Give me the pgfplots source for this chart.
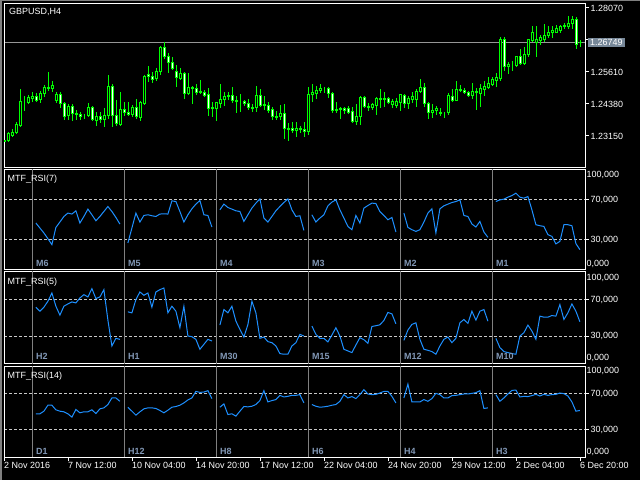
\documentclass[border=0pt]{standalone}
\usepackage{pgfplots}
\pgfplotsset{compat=1.18}
\usepackage{pgfplotstable}
\usepackage{fontspec}
\setmainfont{Liberation Sans}
\definecolor{mtlime}{RGB}{0,255,0}
\definecolor{rsiblue}{RGB}{30,144,255}
\definecolor{tagbg}{RGB}{119,136,153}
\definecolor{lblcol}{RGB}{130,152,182}
\definecolor{divgray}{RGB}{128,128,128}
\definecolor{dashgray}{RGB}{200,200,200}
\definecolor{bidgray}{RGB}{150,150,150}
\newcommand\mtfont{\fontsize{9}{10}\selectfont}

\pgfplotstableread{
k o h l c
0 1.22920 1.23035 1.22882 1.22959
1 1.22959 1.23266 1.22920 1.23228
2 1.23151 1.23381 1.23112 1.23266
3 1.23266 1.23650 1.23228 1.23573
4 1.23535 1.24919 1.23497 1.24457
5 1.24457 1.24650 1.24111 1.24457
6 1.24419 1.24688 1.24380 1.24611
7 1.24573 1.24803 1.24457 1.24650
8 1.24650 1.24765 1.24457 1.24496
9 1.24534 1.24842 1.24419 1.24765
10 1.24765 1.25072 1.24650 1.24995
11 1.24995 1.25572 1.24880 1.24957
12 1.24957 1.25226 1.24842 1.25072
13 1.24496 1.24803 1.24419 1.24726
14 1.24726 1.24803 1.24227 1.24380
15 1.24380 1.24419 1.23766 1.23881
16 1.23919 1.24342 1.23766 1.24265
17 1.24265 1.24342 1.23727 1.23996
18 1.23996 1.24111 1.23766 1.23958
19 1.23958 1.24035 1.23766 1.23881
20 1.23919 1.23958 1.23804 1.23919
21 1.23919 1.24380 1.23881 1.24227
22 1.24227 1.24265 1.23727 1.23766
23 1.23727 1.24035 1.23535 1.23881
24 1.23881 1.24035 1.23650 1.23766
25 1.23766 1.24188 1.23497 1.23919
26 1.23919 1.25457 1.23804 1.25034
27 1.25034 1.25111 1.23497 1.23919
28 1.23919 1.24496 1.23535 1.23612
29 1.23573 1.24803 1.23535 1.24150
30 1.24150 1.24419 1.23919 1.24035
31 1.24035 1.24419 1.23919 1.23958
32 1.23958 1.24304 1.23881 1.24227
33 1.24227 1.24534 1.23804 1.23881
34 1.23842 1.24457 1.23727 1.24419
35 1.24380 1.25457 1.24342 1.25418
36 1.25495 1.25802 1.25226 1.25418
37 1.25418 1.25572 1.25188 1.25303
38 1.25341 1.25726 1.25264 1.25610
39 1.25610 1.26571 1.25495 1.26533
40 1.26533 1.26725 1.26110 1.26187
41 1.26187 1.26302 1.25572 1.25956
42 1.25956 1.26148 1.25687 1.25726
43 1.25610 1.25841 1.25034 1.25380
44 1.25341 1.25726 1.25303 1.25533
45 1.25533 1.25572 1.24573 1.24765
46 1.24765 1.25533 1.24726 1.24995
47 1.24995 1.25034 1.24380 1.24957
48 1.24957 1.25111 1.24726 1.24803
49 1.24803 1.25264 1.24765 1.24842
50 1.24803 1.24880 1.24650 1.24688
51 1.24726 1.24957 1.23919 1.24188
52 1.24188 1.24419 1.23881 1.24227
53 1.24188 1.24419 1.23727 1.24419
54 1.24380 1.25111 1.24227 1.24534
55 1.24534 1.24803 1.24304 1.24650
56 1.24650 1.24803 1.24534 1.24688
57 1.24688 1.24995 1.24419 1.24496
58 1.24496 1.24650 1.24035 1.24457
59 1.24457 1.24726 1.24073 1.24457
60 1.24457 1.24496 1.24304 1.24380
61 1.24380 1.24534 1.24150 1.24227
62 1.24227 1.24342 1.24073 1.24188
63 1.24227 1.25034 1.24073 1.24688
64 1.24688 1.24919 1.24265 1.24304
65 1.24304 1.24650 1.24150 1.24342
66 1.24304 1.24419 1.24035 1.24111
67 1.24150 1.24227 1.23766 1.23881
68 1.23881 1.24073 1.23766 1.23842
69 1.23881 1.24304 1.23766 1.23996
70 1.23996 1.24342 1.23035 1.23420
71 1.23420 1.23612 1.22959 1.23381
72 1.23420 1.23650 1.23266 1.23343
73 1.23343 1.23650 1.23112 1.23420
74 1.23420 1.23497 1.23266 1.23381
75 1.23381 1.23650 1.23112 1.23304
76 1.23304 1.24995 1.23189 1.24726
77 1.24726 1.25111 1.24457 1.24803
78 1.24765 1.25034 1.24573 1.24880
79 1.24880 1.25111 1.24803 1.24957
80 1.24957 1.24995 1.24803 1.24957
81 1.24957 1.24995 1.24611 1.24765
82 1.24765 1.24803 1.24035 1.24111
83 1.24111 1.24419 1.24035 1.24150
84 1.24150 1.24227 1.23804 1.24188
85 1.24188 1.24227 1.23996 1.24111
86 1.24188 1.24265 1.23996 1.24035
87 1.24073 1.24227 1.23650 1.23689
88 1.23689 1.24342 1.23573 1.23881
89 1.23881 1.24650 1.23573 1.24611
90 1.24611 1.24650 1.24227 1.24265
91 1.24265 1.24380 1.24111 1.24227
92 1.24227 1.24380 1.24150 1.24342
93 1.24304 1.24611 1.23958 1.24573
94 1.24573 1.24919 1.24227 1.24534
95 1.24534 1.24803 1.24265 1.24573
96 1.24573 1.24611 1.24380 1.24419
97 1.24342 1.24534 1.24227 1.24457
98 1.24304 1.24573 1.24227 1.24457
99 1.24419 1.24726 1.24111 1.24726
100 1.24688 1.24726 1.24227 1.24380
101 1.24380 1.24650 1.24188 1.24573
102 1.24534 1.24803 1.24419 1.24650
103 1.24534 1.24919 1.24265 1.24842
104 1.24842 1.25303 1.24803 1.24995
105 1.24995 1.25149 1.24265 1.24380
106 1.24380 1.24419 1.23804 1.24035
107 1.24035 1.24342 1.23842 1.24111
108 1.24111 1.24265 1.23958 1.24188
109 1.24035 1.24188 1.23919 1.23996
110 1.23996 1.24035 1.23842 1.23996
111 1.24035 1.24765 1.23958 1.24688
112 1.24650 1.24919 1.24457 1.24496
113 1.24496 1.25226 1.24496 1.24919
114 1.24919 1.25072 1.24842 1.24880
115 1.24880 1.24957 1.24765 1.24803
116 1.24803 1.24842 1.24650 1.24688
117 1.24688 1.25149 1.24573 1.24842
118 1.24842 1.24957 1.24150 1.24803
119 1.24765 1.25111 1.24265 1.24957
120 1.24919 1.25226 1.24688 1.25034
121 1.24995 1.25380 1.24957 1.25149
122 1.25111 1.25380 1.25072 1.25303
123 1.25264 1.25533 1.25034 1.25380
124 1.25341 1.26955 1.25264 1.26878
125 1.26878 1.26917 1.25649 1.25802
126 1.25802 1.25956 1.25533 1.25879
127 1.25879 1.25995 1.25649 1.25879
128 1.25841 1.26187 1.25802 1.26187
129 1.26187 1.26456 1.25879 1.25918
130 1.25918 1.26533 1.25879 1.26264
131 1.26264 1.26878 1.26187 1.26840
132 1.26802 1.27340 1.26763 1.27147
133 1.26725 1.27340 1.26187 1.26840
134 1.26802 1.26994 1.26648 1.26917
135 1.26840 1.27417 1.26763 1.27032
136 1.26994 1.27340 1.26917 1.27147
137 1.27147 1.27340 1.26917 1.27186
138 1.27147 1.27378 1.27109 1.27263
139 1.27224 1.27378 1.27109 1.27340
140 1.27340 1.27493 1.27301 1.27378
141 1.27340 1.27724 1.27301 1.27493
142 1.27455 1.27724 1.27301 1.27647
143 1.27647 1.27686 1.26494 1.26686
144 1.26725 1.26802 1.26571 1.26749
}\candles

\pgfplotstableread{
j s0 s1 s2 s3 s4 s5
0 46.7 26.7 60.0 55.0 56.7 68.3
1 41.7 41.7 65.7 47.7 42.3 70.0
2 36.7 56.7 62.3 51.7 40.0 70.7
3 31.0 47.7 60.7 55.0 38.3 72.7
4 25.0 54.3 59.0 64.0 40.0 74.3
5 42.3 55.0 58.3 67.7 47.7 76.7
6 47.7 54.0 48.3 70.0 56.7 72.7
7 53.3 53.3 55.0 60.0 61.0 71.7
8 56.7 55.7 61.7 51.7 36.7 73.3
9 55.7 56.0 66.7 43.3 61.0 60.0
10 59.0 55.7 71.0 40.0 64.0 45.0
11 46.7 69.0 51.7 54.3 65.7 44.0
12 53.3 68.3 47.7 46.7 67.3 43.3
13 60.7 58.3 53.3 61.7 68.3 35.0
14 55.0 47.7 59.0 64.3 70.0 33.3
15 49.0 55.0 63.3 66.7 54.3 25.7
16 53.3 61.0 67.3 66.3 53.3 28.3
17 58.3 65.7 71.0 58.3 45.7 45.0
18 63.3 69.3 60.0 54.3 42.7 45.0
19 58.3 55.0 53.3 50.0 48.3 44.0
20 52.3 54.3 54.0 52.3 37.7 26.0
21 45.7 42.7 39.3 37.7 32.3 20.0
}\rsiA

\pgfplotstableread{
j s0 s1 s2 s3 s4 s5
0 61.7 56.7 42.3 41.2 25.7 27.9
1 57.4 55.6 59.2 32.2 36.9 17.8
2 61.7 70.0 55.6 27.9 43.0 13.5
3 68.2 78.3 62.8 27.9 44.8 12.4
4 77.2 74.7 46.6 24.0 26.8 11.3
5 62.8 77.2 37.6 31.5 16.0 10.6
6 53.1 61.7 29.3 39.4 14.9 30.4
7 62.8 78.3 42.9 30.4 13.5 34.0
8 65.3 80.8 68.2 16.0 10.6 42.3
9 67.5 82.6 55.6 14.2 19.6 35.8
10 66.4 55.6 27.9 12.4 26.8 26.8
11 71.8 62.8 29.3 20.7 29.3 52.0
12 75.4 57.4 24.3 28.6 23.2 50.9
13 72.9 39.4 23.2 26.4 27.9 50.9
14 81.9 62.8 19.6 22.5 44.8 52.7
15 71.1 30.4 11.3 40.8 48.4 52.0
16 72.9 29.7 10.6 41.6 44.1 64.6
17 80.8 26.8 10.6 42.6 57.4 48.4
18 47.7 16.0 19.6 47.3 47.7 55.6
19 19.6 21.4 23.2 56.0 57.4 65.3
20 27.9 26.8 32.2 54.5 59.2 57.4
21 26.8 25.0 30.4 43.7 46.6 45.9
}\rsiB

\pgfplotstableread{
j s0 s1 s2 s3 s4 s5
0 48.0 55.3 55.3 58.3 65.6 69.3
1 48.0 50.9 59.0 56.4 81.0 61.9
2 50.9 46.5 47.2 55.3 61.2 65.6
3 57.5 50.2 48.0 55.7 61.2 70.0
4 57.5 53.5 45.4 56.4 61.2 74.0
5 52.4 54.6 50.9 57.5 63.8 74.4
6 50.9 54.6 56.1 58.3 61.9 66.7
7 50.2 53.9 55.7 61.9 64.9 67.4
8 48.0 51.7 56.4 69.3 70.7 67.1
9 44.3 49.1 58.3 65.6 69.3 68.2
10 52.8 52.0 62.7 67.1 65.6 69.6
11 49.1 55.3 73.7 64.9 65.6 67.8
12 50.2 56.1 61.2 69.3 68.2 69.6
13 50.2 57.5 62.7 74.8 68.5 68.5
14 52.4 60.1 63.8 70.0 69.3 69.3
15 48.3 63.4 68.5 69.3 70.0 69.6
16 53.5 65.6 66.7 69.6 70.0 71.1
17 54.6 72.9 67.4 71.1 70.7 70.4
18 58.3 71.8 68.5 72.9 71.5 67.8
19 65.6 72.2 68.5 72.9 73.7 61.2
20 65.6 73.7 69.3 67.4 53.9 50.9
21 61.9 64.9 60.1 60.1 54.6 51.7
}\rsiC

\pgfplotsset{
  mtbase/.style={
    scale only axis, anchor=south west, width=581bp,
    xmin=-0.175, xmax=145.075,
    axis line style={white, line width=1bp},
    tick style={white, line width=1bp},
    tick align=outside, major tick length=4bp,
    ytick pos=right, yticklabel pos=right,
    xtick pos=lower,
    tick label style={text=white, font=\mtfont},
    yticklabel style={anchor=west, inner xsep=1.5bp},
    xtick=\empty,
  },
  rsi/.style={
    mtbase, ymin=0, ymax=100,
    ytick={30,70}, yticklabels={{30,000},{70,000}},
    ymajorgrids,
    grid style={dashgray, line width=1bp, dash pattern=on 3bp off 2bp},
    extra y tick labels={{0,000},{100,000}},
    extra y tick style={grid=none, major tick length=0pt},
  },
  rsiline/.style={rsiblue, line width=1bp, mark=none},
  divider/.style={ycomb, divgray, line width=1bp, mark=none},
}
\tikzset{
  seclbl/.style={anchor=base west, text=lblcol, font=\mtfont\bfseries, inner sep=0pt},
  ttl/.style={anchor=north west, text=white, font=\mtfont, inner sep=0pt},
}

\begin{document}
\begin{tikzpicture}
\fill[black] (0,0) rectangle (640bp,480bp);
\fill[divgray] (0,0) rectangle (1.5bp,480bp);
\fill[divgray] (0,478.5bp) rectangle (640bp,480bp);

% ---------- price panel: bid line ----------
\begin{axis}[mtbase, at={(4bp,312.5bp)}, height=163.5bp,
  ymin=1.21939, ymax=1.28224, hide axis]
\addplot[bidgray, line width=1bp, mark=none] coordinates {(-1,1.26749) (150,1.26749)};
\end{axis}

% ---------- price panel: wicks (low + range, stacked, zero width) ----------
\begin{axis}[mtbase, at={(4bp,312.5bp)}, height=163.5bp,
  ymin=1.21939, ymax=1.28224, hide axis,
  ybar stacked, bar width=0.01bp]
\addplot[draw=none, fill=none] table[x=k, y=l] {\candles};
\addplot[draw=mtlime, fill=none, line width=1bp] table[x=k, y expr=\thisrow{h}-\thisrow{l}] {\candles};
\end{axis}

% ---------- price panel: bodies, frame, ticks ----------
\begin{axis}[mtbase, at={(4bp,312.5bp)}, height=163.5bp,
  ymin=1.21939, ymax=1.28224,
  ybar stacked, bar width=2bp,
  ytick={1.23150,1.24380,1.25610,1.26840,1.28070},
  yticklabels={1.23150,1.24380,1.25610,{},1.28070}]
\addplot[draw=none, fill=none] table[x=k, y expr={min(\thisrow{o},\thisrow{c})}] {\candles};
\addplot[draw=mtlime, fill=black, line width=1bp] table[x=k, y expr={max(\thisrow{c}-\thisrow{o},0)}] {\candles};
\addplot[draw=mtlime, fill=white, line width=1bp] table[x=k, y expr={max(\thisrow{o}-\thisrow{c},0)}] {\candles};
\node[ttl, xshift=5bp, yshift=-4bp] at (rel axis cs:0,1) {GBPUSD,H4};
\coordinate (bid) at (axis cs:145.075,1.26749);
\end{axis}
\node[fill=tagbg, text=white, anchor=west, inner xsep=2bp, inner ysep=1.5bp, font=\mtfont, xshift=3bp] at (bid) {1.26749};

% ---------- RSI(7) ----------
\begin{axis}[rsi, at={(4bp,210.5bp)}, height=99.5bp,
  extra y ticks={6,95}]
\addplot[divider] coordinates {(6.85,200) (29.85,200) (52.85,200) (75.85,200) (98.85,200) (121.85,200)};
\addplot[rsiline] table[x expr=\thisrow{j}+7.8, y=s0] {\rsiA};
\addplot[rsiline] table[x expr=\thisrow{j}+30.8, y=s1] {\rsiA};
\addplot[rsiline] table[x expr=\thisrow{j}+53.8, y=s2] {\rsiA};
\addplot[rsiline] table[x expr=\thisrow{j}+76.8, y=s3] {\rsiA};
\addplot[rsiline] table[x expr=\thisrow{j}+99.8, y=s4] {\rsiA};
\addplot[rsiline] table[x expr=\thisrow{j}+122.8, y=s5] {\rsiA};
\node[ttl, xshift=3.5bp, yshift=-5bp] at (rel axis cs:0,1) {MTF\_RSI(7)};
\node[seclbl, yshift=3bp] at (axis cs:7.8,0) {M6};
\node[seclbl, yshift=3bp] at (axis cs:30.8,0) {M5};
\node[seclbl, yshift=3bp] at (axis cs:53.8,0) {M4};
\node[seclbl, yshift=3bp] at (axis cs:76.8,0) {M3};
\node[seclbl, yshift=3bp] at (axis cs:99.8,0) {M2};
\node[seclbl, yshift=3bp] at (axis cs:122.8,0) {M1};
\end{axis}

% ---------- RSI(5) ----------
\begin{axis}[rsi, at={(4bp,116bp)}, height=92bp,
  extra y ticks={6.5,93.8}]
\addplot[divider] coordinates {(6.85,200) (29.85,200) (52.85,200) (75.85,200) (98.85,200) (121.85,200)};
\addplot[rsiline] table[x expr=\thisrow{j}+7.8, y=s0] {\rsiB};
\addplot[rsiline] table[x expr=\thisrow{j}+30.8, y=s1] {\rsiB};
\addplot[rsiline] table[x expr=\thisrow{j}+53.8, y=s2] {\rsiB};
\addplot[rsiline] table[x expr=\thisrow{j}+76.8, y=s3] {\rsiB};
\addplot[rsiline] table[x expr=\thisrow{j}+99.8, y=s4] {\rsiB};
\addplot[rsiline] table[x expr=\thisrow{j}+122.8, y=s5] {\rsiB};
\node[ttl, xshift=3.5bp, yshift=-5.5bp] at (rel axis cs:0,1) {MTF\_RSI(5)};
\node[seclbl, yshift=4bp] at (axis cs:7.8,0) {H2};
\node[seclbl, yshift=4bp] at (axis cs:30.8,0) {H1};
\node[seclbl, yshift=4bp] at (axis cs:53.8,0) {M30};
\node[seclbl, yshift=4bp] at (axis cs:76.8,0) {M15};
\node[seclbl, yshift=4bp] at (axis cs:99.8,0) {M12};
\node[seclbl, yshift=4bp] at (axis cs:122.8,0) {M10};
\end{axis}

% ---------- RSI(14) ----------
\begin{axis}[rsi, at={(4bp,23bp)}, height=90bp,
  extra y ticks={5.9,95.6},
  xtick={0,16,32,48,64,80,96,112,128,144},
  xticklabels={{2 Nov 2016},{7 Nov 12:00},{10 Nov 04:00},{14 Nov 20:00},{17 Nov 12:00},{22 Nov 04:00},{24 Nov 20:00},{29 Nov 12:00},{2 Dec 04:00},{6 Dec 20:00}},
  xticklabel style={anchor=north west, inner xsep=0pt, inner ysep=1.5bp, xshift=-0.7bp}]
\addplot[divider] coordinates {(6.85,200) (29.85,200) (52.85,200) (75.85,200) (98.85,200) (121.85,200)};
\addplot[rsiline] table[x expr=\thisrow{j}+7.8, y=s0] {\rsiC};
\addplot[rsiline] table[x expr=\thisrow{j}+30.8, y=s1] {\rsiC};
\addplot[rsiline] table[x expr=\thisrow{j}+53.8, y=s2] {\rsiC};
\addplot[rsiline] table[x expr=\thisrow{j}+76.8, y=s3] {\rsiC};
\addplot[rsiline] table[x expr=\thisrow{j}+99.8, y=s4] {\rsiC};
\addplot[rsiline] table[x expr=\thisrow{j}+122.8, y=s5] {\rsiC};
\node[ttl, xshift=3.5bp, yshift=-5bp] at (rel axis cs:0,1) {MTF\_RSI(14)};
\node[seclbl, yshift=3bp] at (axis cs:7.8,0) {D1};
\node[seclbl, yshift=3bp] at (axis cs:30.8,0) {H12};
\node[seclbl, yshift=3bp] at (axis cs:53.8,0) {H8};
\node[seclbl, yshift=3bp] at (axis cs:76.8,0) {H6};
\node[seclbl, yshift=3bp] at (axis cs:99.8,0) {H4};
\node[seclbl, yshift=3bp] at (axis cs:122.8,0) {H3};
\end{axis}

\pgfresetboundingbox
\useasboundingbox (0,0) rectangle (640bp,480bp);
\end{tikzpicture}
\end{document}
